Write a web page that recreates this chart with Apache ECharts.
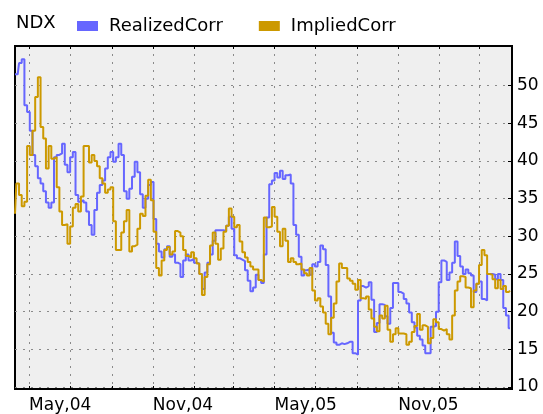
<!DOCTYPE html>
<html>
<head>
<meta charset="utf-8">
<script src="https://cdn.jsdelivr.net/npm/echarts@6/dist/echarts.min.js"></script>
<style>
  html, body { margin: 0; padding: 0; background: #fff; }
  #chart { width: 543px; height: 414px; }
</style>
</head>
<body>
<div id="chart"></div>
<script>
// 日期，每4天一个点
var dates = [
  '2004-04-10','2004-04-14','2004-04-18','2004-04-22','2004-04-26','2004-04-30','2004-05-04','2004-05-08','2004-05-12','2004-05-16',
  '2004-05-20','2004-05-24','2004-05-28','2004-06-01','2004-06-05','2004-06-09','2004-06-13','2004-06-17','2004-06-21','2004-06-25',
  '2004-06-29','2004-07-03','2004-07-07','2004-07-11','2004-07-15','2004-07-19','2004-07-23','2004-07-27','2004-07-31','2004-08-04',
  '2004-08-08','2004-08-12','2004-08-16','2004-08-20','2004-08-24','2004-08-28','2004-09-01','2004-09-05','2004-09-09','2004-09-13',
  '2004-09-17','2004-09-21','2004-09-25','2004-09-29','2004-10-03','2004-10-07','2004-10-11','2004-10-15','2004-10-19','2004-10-23',
  '2004-10-27','2004-10-31','2004-11-04','2004-11-08','2004-11-12','2004-11-16','2004-11-20','2004-11-24','2004-11-28','2004-12-02',
  '2004-12-06','2004-12-10','2004-12-14','2004-12-18','2004-12-22','2004-12-26','2004-12-30','2005-01-03','2005-01-07','2005-01-11',
  '2005-01-15','2005-01-19','2005-01-23','2005-01-27','2005-01-31','2005-02-04','2005-02-08','2005-02-12','2005-02-16','2005-02-20',
  '2005-02-24','2005-02-28','2005-03-04','2005-03-08','2005-03-12','2005-03-16','2005-03-20','2005-03-24','2005-03-28','2005-04-01',
  '2005-04-05','2005-04-09','2005-04-13','2005-04-17','2005-04-21','2005-04-25','2005-04-29','2005-05-03','2005-05-07','2005-05-11',
  '2005-05-15','2005-05-19','2005-05-23','2005-05-27','2005-05-31','2005-06-04','2005-06-08','2005-06-12','2005-06-16','2005-06-20',
  '2005-06-24','2005-06-28','2005-07-02','2005-07-06','2005-07-10','2005-07-14','2005-07-18','2005-07-22','2005-07-26','2005-07-30',
  '2005-08-03','2005-08-07','2005-08-11','2005-08-15','2005-08-19','2005-08-23','2005-08-27','2005-08-31','2005-09-04','2005-09-08',
  '2005-09-12','2005-09-16','2005-09-20','2005-09-24','2005-09-28','2005-10-02','2005-10-06','2005-10-10','2005-10-14','2005-10-18',
  '2005-10-22','2005-10-26','2005-10-30','2005-11-03','2005-11-07','2005-11-11','2005-11-15','2005-11-19','2005-11-23','2005-11-27',
  '2005-12-01','2005-12-05','2005-12-09','2005-12-13','2005-12-17','2005-12-21','2005-12-25','2005-12-29','2006-01-02','2006-01-06',
  '2006-01-10','2006-01-14','2006-01-18','2006-01-22','2006-01-26','2006-01-30','2006-02-03','2006-02-07','2006-02-11','2006-02-15',
  '2006-02-19','2006-02-23','2006-02-27','2006-03-03','2006-03-07','2006-03-11','2006-03-15','2006-03-19','2006-03-23','2006-03-27',
  '2006-03-31','2006-04-04','2006-04-08','2006-04-12','2006-04-16'
];

var realizedCorr = [
  51.5,51.5,53,53.5,47.4,46.5,44,40.8,39.3,37.7,
  37,36,34.5,33.8,34.5,40.5,40.8,41,42.3,39.5,
  38.5,40.5,41.2,35.5,34.6,34.8,34.5,33.3,31.5,30.2,
  33.5,35.8,36.8,37.4,39,40.5,41.2,39.9,40.5,42.3,
  40.8,36,35,36.3,37.9,39.9,38.5,35.6,33.8,35,
  36.8,37.2,32.3,29,28,27.2,28.3,28.7,27.3,27.6,
  26.5,26.3,24.6,26.8,27.6,26.8,27,26.5,26.4,25,
  23,25.2,26.5,27.6,29.4,30.8,30.8,30.8,30.7,31.4,
  32.6,31,27.5,27.1,26.9,26.7,25.5,24.1,22.7,23.2,
  24.9,24.2,23.8,27.6,32.5,36.9,37.4,38.4,37.8,38.7,
  37.6,38.1,38.2,37,31.5,30.2,27.3,24.8,25.5,25.6,
  24.9,26.3,26,26.6,28.8,28.3,26.2,22,17.2,15.9,
  15.6,15.8,15.7,15.8,16,16,14.5,14.3,21.5,23.4,
  23.2,23.4,23.9,21.6,17.3,18.5,21,20.9,19.4,18.4,
  20.5,23.8,23.8,22.6,22.4,21.7,21.1,19.9,18.6,17.9,
  16.8,16.3,15.5,14.5,14.5,18,18.1,20,23.9,26.8,
  26.6,24.2,25.2,26.5,29.3,27.4,26,25,25.6,25.1,
  24.8,22.6,23.7,24,21.7,21.5,25,25,24.9,24.3,
  25,24.2,20.5,19.5,17.8
];

var impliedCorr = [
  33,37,35.5,34,34.6,42,40.8,44,48.5,51.1,
  44.5,43,39,42,40.3,40.5,36.5,33.3,31.5,31.6,
  29,31.3,33.8,34.3,33.3,35.3,42,42,39.8,40.8,
  40,39.3,37.7,37,35.8,36.2,36.5,32,28.2,28.2,
  30.5,32,33.5,28,28.7,28.9,31,33,32.7,35.4,
  37.5,34.8,30.6,25.8,24.8,26.8,28.2,28.6,27.6,28,
  30.7,30.5,30,28.2,27.4,27.2,27.9,27.1,26.4,25,
  22.2,24.6,26.3,28.8,30.5,29,26.9,28.4,30.6,31.4,
  33.7,32.6,31.2,31.5,29.3,27.9,27.2,26.6,26,25.6,
  25.6,24.2,24,32.5,31.2,31.3,33.9,32.6,30.6,28.7,
  31,29.4,26.6,27.1,26.6,26.3,26.4,25.6,25.1,24.8,
  25.8,22.8,21.5,21.8,20.7,19.9,18.4,17,19.2,21.1,
  24,26.4,25.8,25.8,24.4,24.1,23.7,22.9,24.2,21.8,
  21.7,22,20.3,19.1,18,17.4,19.5,19.1,20.8,17.6,
  16,17,17.8,17.1,17.1,17,15.6,16,17.3,18.1,
  19.7,17.6,18.2,18,15.8,16.5,19,18.6,17.7,17.5,
  17.7,17,16.3,19.5,22.8,24,24.7,24.6,23.2,23.1,
  20.6,22.8,23.7,26.2,28.2,27.5,25,24.9,24.3,23.1,
  24.2,23,23.4,22.6,22.8
];

// 竖向网格（每两个月）和底部标签
var gridMonths = ['2004-05-01','2004-07-01','2004-09-01','2004-11-01','2005-01-01','2005-03-01',
  '2005-05-01','2005-07-01','2005-09-01','2005-11-01','2006-01-01','2006-03-01'];
var labelMonths = ['2004-05-01','2004-11-01','2005-05-01','2005-11-01'];
var yTicks = [10, 15, 20, 25, 30, 35, 40, 45, 50];
var monthNames = ['Jan','Feb','Mar','Apr','May','Jun','Jul','Aug','Sep','Oct','Nov','Dec'];

function toTime(s) {
  var p = s.split('-');
  return new Date(+p[0], +p[1] - 1, +p[2]).getTime();
}

var blueColor = '#6666ff';
var goldColor = '#cc9900';
var font = 'DejaVu Sans';
var xMin = toTime('2004-04-10');
var xMax = toTime('2006-04-19');
var dotted = { color: '#8a8a8a', width: 1, type: [2, 6] };

var chart = echarts.init(document.getElementById('chart'));

var option = {
  animation: false,
  backgroundColor: '#ffffff',
  title: {
    text: 'NDX',
    left: 16,
    top: 14,
    padding: 0,
    textStyle: { fontFamily: font, fontSize: 18, fontWeight: 'normal', color: '#000' }
  },
  legend: {
    left: 77,
    top: 17,
    padding: 0,
    icon: 'rect',
    itemWidth: 21,
    itemHeight: 10,
    itemGap: 36,
    textStyle: { fontFamily: font, fontSize: 18, color: '#000', padding: [0, 0, 0, 6] },
    data: ['RealizedCorr', 'ImpliedCorr']
  },
  grid: {
    left: 15,
    right: 31,
    top: 46,
    bottom: 22,
    show: true,
    backgroundColor: '#efefef',
    borderColor: '#000',
    borderWidth: 2
  },
  xAxis: [{
    type: 'value',
    min: xMin,
    max: xMax,
    axisLine: { show: true, lineStyle: { color: '#000', width: 2 } },
    axisTick: {
      show: true,
      inside: true,
      length: 3,
      lineStyle: { color: '#000' },
      customValues: gridMonths.map(toTime)
    },
    axisLabel: {
      customValues: labelMonths.map(toTime),
      align: 'left',
      margin: 8,
      fontFamily: font,
      fontSize: 17,
      color: '#000',
      formatter: function (val) {
        var d = new Date(val);
        return monthNames[d.getMonth()] + ',' + String(d.getFullYear()).slice(2);
      }
    },
    splitLine: { show: true, lineStyle: dotted }
  }, {
    // 顶部边框上的小刻度
    type: 'value',
    position: 'top',
    min: xMin,
    max: xMax,
    axisLine: { show: true, lineStyle: { color: '#000', width: 2 } },
    axisTick: {
      show: true,
      inside: true,
      length: 3,
      lineStyle: { color: '#000' },
      customValues: gridMonths.map(toTime)
    },
    axisLabel: { show: false },
    splitLine: { show: false }
  }],
  yAxis: {
    type: 'value',
    position: 'right',
    min: 9.74,
    max: 55.26,
    axisLine: { show: true, lineStyle: { color: '#000', width: 2 } },
    axisTick: {
      show: true,
      inside: true,
      length: 4,
      lineStyle: { color: '#000' },
      customValues: yTicks
    },
    axisLabel: {
      customValues: yTicks,
      margin: 5,
      padding: [0, 0, 4, 0],
      fontFamily: font,
      fontSize: 17,
      color: '#000'
    },
    splitLine: { show: true, lineStyle: dotted }
  },
  series: [
    {
      name: 'RealizedCorr',
      type: 'line',
      step: 'middle',
      symbol: 'none',
      color: blueColor,
      lineStyle: { color: blueColor, width: 2 },
      data: dates.map(function (d, i) { return [toTime(d), realizedCorr[i]]; })
    },
    {
      name: 'ImpliedCorr',
      type: 'line',
      step: 'middle',
      symbol: 'none',
      color: goldColor,
      lineStyle: { color: goldColor, width: 2 },
      data: dates.map(function (d, i) { return [toTime(d), impliedCorr[i]]; })
    }
  ]
};

chart.setOption(option);
</script>
</body>
</html>
